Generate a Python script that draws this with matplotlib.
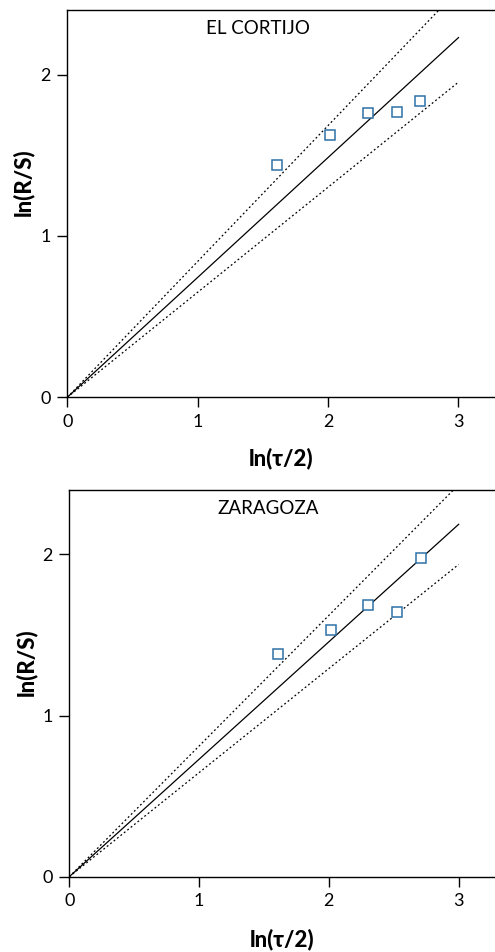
import matplotlib
matplotlib.use("Agg")
import matplotlib.pyplot as plt
import numpy as np

plt.rcParams['font.family'] = ['Lato', 'DejaVu Sans']

# ln(tau/2) values of the observed points
x_pts = [1.609, 2.015, 2.303, 2.526, 2.708]

# ln(R/S) per site
sites = ["EL CORTIJO", "ZARAGOZA"]
y_cortijo = [1.437, 1.628, 1.762, 1.766, 1.834]
y_zaragoza = [1.385, 1.529, 1.684, 1.643, 1.978]

# slopes of the fitted line and the two bounds through the origin
fit_slope = [0.743, 0.729]
upper_slope = [0.842, 0.811]
lower_slope = [0.651, 0.646]
x_line = [0, 3]

fig = plt.figure(figsize=(4.95, 9.52), dpi=100)
ax_rects = [[0.136, 0.5827, 0.864, 0.4068], [0.140, 0.0791, 0.860, 0.4062]]
title_pos = [(0.446, 0.953), (0.467, 0.953)]
ylab_pos = [(-0.104, 0.556), (-0.102, 0.556)]
xlab_pos = [(0.5, -0.159), (0.5, -0.162)]

for i, ys in enumerate([y_cortijo, y_zaragoza]):
    ax = fig.add_axes(ax_rects[i])
    xl = np.array(x_line)
    ax.plot(xl, fit_slope[i] * xl, color='black', lw=0.9)
    ax.plot(xl, upper_slope[i] * xl, color='black', lw=0.9, ls=(0, (1.5, 2)))
    ax.plot(xl, lower_slope[i] * xl, color='black', lw=0.9, ls=(0, (1.5, 2)))
    ax.plot(x_pts, ys, 's', mfc='white', mec='#2f72a6', mew=1.1, ms=7, ls='none')

    ax.set_xlim(0, 3.28)
    ax.set_ylim(0, 2.4)
    ax.set_xticks([0, 1, 2, 3])
    ax.set_yticks([0, 1, 2])
    ax.spines['right'].set_visible(False)
    for s in ['left', 'bottom', 'top']:
        ax.spines[s].set_linewidth(1.0)
    ax.tick_params(direction='out', length=7, width=1.0, labelsize=13, pad=5)

    ax.text(*title_pos[i], sites[i], transform=ax.transAxes, ha='center',
            va='center', fontsize=13.5)
    ax.set_ylabel("ln(R/S)", fontsize=16, fontweight='black')
    ax.yaxis.set_label_coords(*ylab_pos[i])
    ax.yaxis.label.set_va('center')
    ax.set_xlabel("ln(τ/2)", fontsize=16, fontweight='black')
    ax.xaxis.set_label_coords(*xlab_pos[i])
    ax.xaxis.label.set_va('center')

fig.savefig("out.png", dpi=100)
